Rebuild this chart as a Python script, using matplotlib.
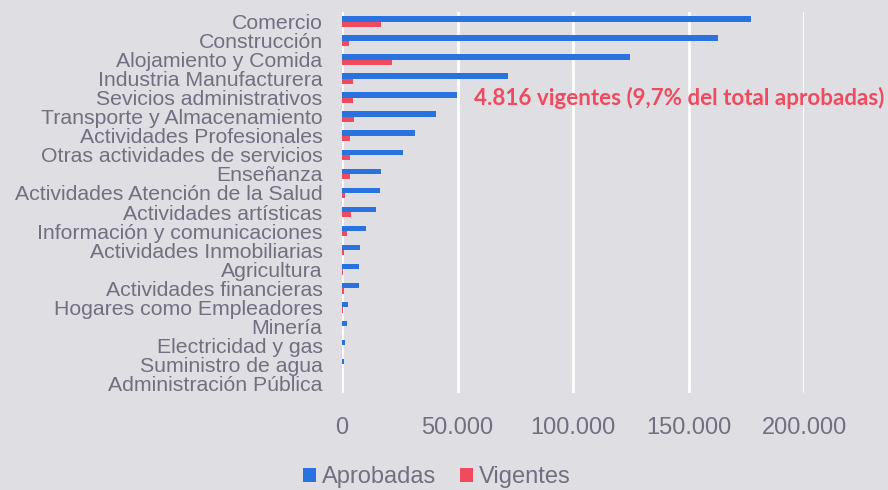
import matplotlib
matplotlib.use("Agg")
import matplotlib.pyplot as plt
import numpy as np
from matplotlib.ticker import FuncFormatter

categories = ["Comercio", "Construcción", "Alojamiento y Comida", "Industria Manufacturera",
              "Sevicios administrativos", "Transporte y Almacenamiento", "Actividades Profesionales",
              "Otras actividades de servicios", "Enseñanza", "Actividades Atención de la Salud",
              "Actividades artísticas", "Información y comunicaciones", "Actividades Inmobiliarias",
              "Agricultura", "Actividades financieras", "Hogares como Empleadores", "Minería",
              "Electricidad y gas", "Suministro de agua", "Administración Pública"]
aprobadas = [176900, 162900, 124800, 71700, 49600, 40700, 31500, 26500, 17000, 16600,
             14600, 10300, 7700, 7500, 7400, 2500, 2000, 1100, 800, 0]
vigentes = [16750, 3200, 21600, 4600, 4816, 5300, 3300, 3300, 3500, 1300,
            3900, 2200, 700, 600, 1000, 500, 100, 50, 30, 0]
xticks = [0, 50000, 100000, 150000, 200000]
annotation = "4.816 vigentes (9,7% del total aprobadas)"

bg = "#dfdee3"
blue = "#2a72e0"
red = "#ef4a5e"
txt = "#707080"

fig = plt.figure(figsize=(8.88, 4.90), dpi=100, facecolor=bg)
ax = fig.add_axes([342/888, 1-393/490, (804-342)/888, (393-12)/490], facecolor=bg)

y = np.arange(len(categories))
h = 0.28
ax.barh(y - h/2, aprobadas, height=h, color=blue, label="Aprobadas", zorder=3)
ax.barh(y + h/2, vigentes, height=h, color=red, label="Vigentes", zorder=3)
ax.set_ylim(len(categories) - 0.5, -0.5)
ax.set_xlim(0, 200000)
ax.set_yticks(y)
ax.set_yticklabels(categories, fontsize=15.3, color=txt, family="Liberation Sans")
ax.set_xticks(xticks)
ax.xaxis.set_major_formatter(FuncFormatter(lambda v, p: f"{int(v):,}".replace(",", ".")))
for lab in ax.get_xticklabels():
    lab.set_fontsize(17); lab.set_color(txt); lab.set_family("Liberation Sans")
ax.tick_params(axis="y", length=0, pad=14)
ax.tick_params(axis="x", length=0, pad=17)
ax.grid(axis="x", color="white", linewidth=2, zorder=1)
for s in ax.spines.values():
    s.set_visible(False)

ax.text(57000, 4, annotation, color=red, fontsize=16.1, fontweight="bold",
        family="Lato", va="center", ha="left", zorder=4)

leg = fig.legend(loc="center", bbox_to_anchor=(437/888, 1-477/490), ncol=2, frameon=False,
                 prop={"family": "Liberation Sans", "size": 17}, handlelength=0.55,
                 handleheight=0.55, handletextpad=0.25, columnspacing=1.0, labelcolor=txt)

fig.savefig("out.png", dpi=100, facecolor=bg)
